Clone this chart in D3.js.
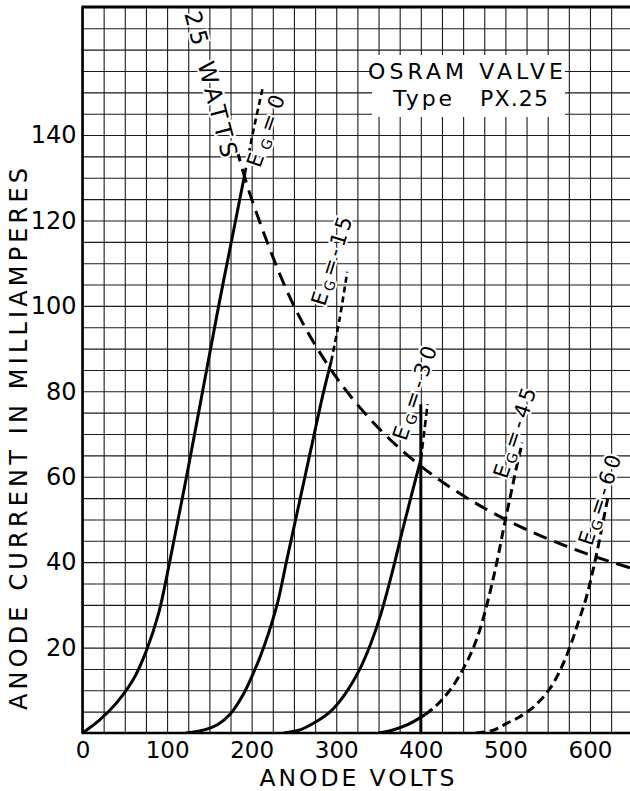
<!DOCTYPE html>
<html>
<head>
<meta charset="utf-8">
<script src="https://cdn.jsdelivr.net/npm/d3@7"></script>
<style>
  html, body { margin: 0; padding: 0; background: #fff; }
  svg { display: block; }
</style>
</head>
<body>
<script>
// ---------------- data (anode volts, anode current mA) ----------------
const xTickValues = [0, 100, 200, 300, 400, 500, 600];
const yTickValues = [20, 40, 60, 80, 100, 120, 140];
const xGridValues = d3.range(0, 651, 25);
const yGridValues = d3.range(0, 171, 5);

const eg0Solid   = [[0,0],[20,3],[40,7],[60,12.5],[75,19],[90,28],[103,40],[113,50],[123,60],[142,80],[161,100],[180,119],[192,131]];
const eg0Dotted  = [[192,131],[202,141],[213,151]];
const eg15Solid  = [[122,0],[145,0.8],[160,2],[175,4.5],[190,9],[202,14],[215,20.5],[230,30],[241,40],[252,50],[263,60],[274,70],[284,79],[294,87]];
const eg15Dotted = [[294,87],[304,97],[313,108]];
const eg30Solid  = [[238,0],[257,0.7],[275,2.5],[293,5],[310,9],[328,15],[341,21],[353,28],[366,37.5],[379,48],[390,56.5],[400,64]];
const eg30Dashed = [[400,64],[404,70.5],[408,77]];
const eg45Solid  = [[350,0],[367,0.7],[385,2],[405,4.3]];
const eg45Dashed = [[405,4.3],[416,6],[426,8],[438,11],[450,15],[459,18.5],[467,22.5],[474,27],[480,31.5],[486,36.5],[492,42],[499,49],[507,56.5],[514,63],[520,68]];
const eg60Dashed = [[465,0],[485,0.6],[502,2.3],[516,3.7],[529,5.4],[541,7.6],[553,10.5],[565,14.8],[576,20],[586,25.8],[596,32],[604,38.5],[610,44],[616,50],[622,56]];
const watts25    = [[182,137],[200,125],[250,100],[300,83.3],[350,71.4],[400,62.5],[450,55.6],[500,50],[550,45.5],[600,41.7],[650,38.5]];
const limit400   = [[400,0],[400,77]];

const curveLabels = ["=0", "=-15", "=-30", "=-45", "=-60"];

// ---------------- layout ----------------
const W = 630, H = 791;
const x = d3.scaleLinear().domain([0, 650]).range([82.5, 82.5 + 650 * 0.8458]);
const y = d3.scaleLinear().domain([0, 170]).range([733, 733 - 170 * 4.271]);

const svg = d3.select("body").append("svg").attr("width", W).attr("height", H);

svg.append("clipPath").attr("id", "plotclip").append("rect")
  .attr("x", x(0)).attr("y", 0).attr("width", W - x(0)).attr("height", y(0));

// grid
svg.append("g")
  .attr("transform", `translate(0,${y(0)})`)
  .call(d3.axisBottom(x).tickValues(xGridValues).tickSize(-(y(0) - y(170))).tickFormat(""))
  .call(g => g.select(".domain").remove())
  .call(g => g.selectAll("line").attr("stroke", "#1a1a1a").attr("stroke-width", 1.1));
svg.append("g")
  .attr("transform", `translate(${x(0)},0)`)
  .call(d3.axisLeft(y).tickValues(yGridValues).tickSize(-(x(650) - x(0))).tickFormat(""))
  .call(g => g.select(".domain").remove())
  .call(g => g.selectAll("line").attr("stroke", "#1a1a1a").attr("stroke-width", 1.1));

// frame
svg.append("line").attr("x1", x(0)).attr("x2", x(0)).attr("y1", y(170)).attr("y2", y(0))
  .attr("stroke", "#000").attr("stroke-width", 2.6);
svg.append("line").attr("x1", x(0) - 1).attr("x2", W).attr("y1", y(0)).attr("y2", y(0))
  .attr("stroke", "#000").attr("stroke-width", 2.6);
svg.append("line").attr("x1", x(0) - 1).attr("x2", W).attr("y1", y(170)).attr("y2", y(170))
  .attr("stroke", "#000").attr("stroke-width", 3);

// tick labels
const font = "DejaVu Sans, sans-serif";
svg.append("g")
  .attr("transform", `translate(0,${y(0)})`)
  .call(d3.axisBottom(x).tickValues(xTickValues).tickSize(0).tickPadding(9))
  .call(g => g.select(".domain").remove())
  .call(g => g.selectAll("text").attr("font-family", font).attr("font-size", 23).attr("fill", "#000"));
svg.append("g")
  .attr("transform", `translate(${x(0)},0)`)
  .call(d3.axisLeft(y).tickValues(yTickValues).tickSize(0).tickPadding(6))
  .call(g => g.select(".domain").remove())
  .call(g => g.selectAll("text").attr("font-family", font).attr("font-size", 24).attr("fill", "#000"));

// axis titles
svg.append("text").attr("x", 357).attr("y", 786).attr("text-anchor", "middle")
  .attr("font-family", font).attr("font-size", 23.5).attr("textLength", 195).attr("lengthAdjust", "spacing")
  .text("ANODE VOLTS");
svg.append("text").attr("transform", "translate(19,439) rotate(-90)")
  .attr("text-anchor", "middle").attr("dominant-baseline", "central")
  .attr("font-family", font).attr("font-size", 24).attr("textLength", 542).attr("lengthAdjust", "spacing")
  .text("ANODE CURRENT IN MILLIAMPERES");

// curves
const line = d3.line().x(d => x(d[0])).y(d => y(d[1])).curve(d3.curveCatmullRom.alpha(0.5));
const straight = d3.line().x(d => x(d[0])).y(d => y(d[1]));
const curves = svg.append("g").attr("clip-path", "url(#plotclip)");
function draw(data, dash, w, gen) {
  curves.append("path").attr("d", (gen || line)(data)).attr("fill", "none")
    .attr("stroke", "#000").attr("stroke-width", w)
    .attr("stroke-dasharray", dash).attr("stroke-linecap", "butt").attr("stroke-linejoin", "round");
}
draw(watts25, "14,8", 3);
draw(eg0Solid, null, 3);
draw(eg0Dotted, "6,4", 2.6);
draw(eg15Solid, null, 3);
draw(eg15Dotted, "6,4", 2.6);
draw(eg30Solid, null, 3);
draw(eg30Dashed, "7,4", 2.6);
draw(limit400, null, 3, straight);
draw(eg45Solid, null, 3);
draw(eg45Dashed, "9,5", 3);
draw(eg60Dashed, "9,5", 3);

// title box
svg.append("rect").attr("x", 372).attr("y", 55).attr("width", 193).attr("height", 62).attr("fill", "#fff");
svg.append("text").attr("x", 368).attr("y", 79).attr("font-family", font).attr("font-size", 22)
  .attr("textLength", 195).attr("lengthAdjust", "spacing").text("OSRAM VALVE");
svg.append("text").attr("x", 393).attr("y", 106).attr("font-family", font).attr("font-size", 22)
  .attr("textLength", 59).attr("lengthAdjust", "spacing").text("Type");
svg.append("text").attr("x", 480).attr("y", 106).attr("font-family", font).attr("font-size", 22)
  .attr("textLength", 68).attr("lengthAdjust", "spacing").text("PX.25");

// 25 watts label
svg.append("text").attr("transform", "translate(211,84) rotate(75.4)")
  .attr("text-anchor", "middle").attr("dominant-baseline", "central")
  .attr("font-family", font).attr("font-size", 23)
  .attr("textLength", 150).attr("lengthAdjust", "spacing")
  .attr("stroke", "#fff").attr("stroke-width", 4).attr("paint-order", "stroke")
  .text("25 WATTS");

// E_G labels
const labelPos = [
  {cx: 266, cy: 131, len: 75, a: -70.5},
  {cx: 332, cy: 261, len: 92, a: -72.5},
  {cx: 415, cy: 393, len: 98, a: -71.5},
  {cx: 515, cy: 433, len: 94, a: -71.5},
  {cx: 600, cy: 500, len: 94, a: -71.5}
];
curveLabels.forEach((lab, i) => {
  const p = labelPos[i];
  const t = svg.append("text").attr("transform", `translate(${p.cx},${p.cy}) rotate(${p.a})`)
    .attr("text-anchor", "middle").attr("dominant-baseline", "central")
    .attr("font-family", font).attr("font-size", 21)
    .attr("textLength", p.len).attr("lengthAdjust", "spacing")
    .attr("stroke", "#fff").attr("stroke-width", 4).attr("paint-order", "stroke");
  t.append("tspan").text("E");
  t.append("tspan").attr("font-size", 14).attr("dy", 5).text("G");
  t.append("tspan").attr("dy", -5).text(lab);
});
</script>
</body>
</html>
